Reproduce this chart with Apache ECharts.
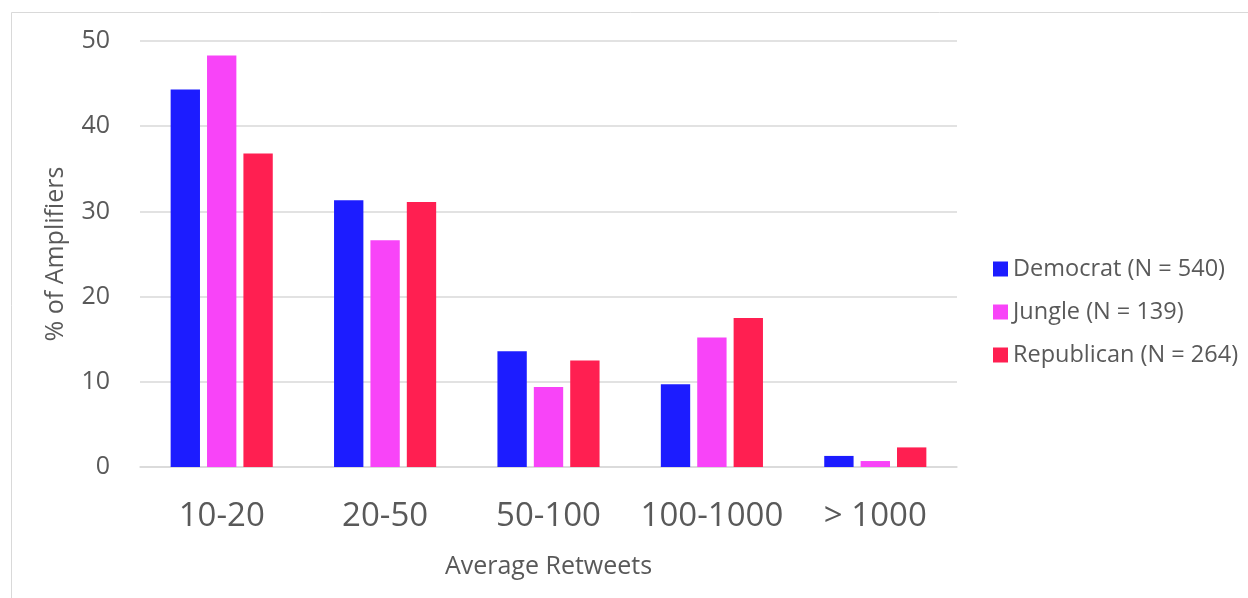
<!DOCTYPE html>
<html>
<head>
<meta charset="utf-8">
<style>
  html, body { margin: 0; padding: 0; background: #ffffff; }
  #chart { width: 1248px; height: 598px; }
</style>
<script src="https://cdn.jsdelivr.net/npm/echarts@6/dist/echarts.min.js"></script>
</head>
<body>
<div id="chart"></div>
<script>
// Share of amplifiers by average retweet bucket, per community
const categories = ['10-20', '20-50', '50-100', '100-1000', '> 1000'];
const democrat = [44.3, 31.3, 13.6, 9.7, 1.3];
const jungle = [48.3, 26.6, 9.4, 15.2, 0.7];
const republican = [36.8, 31.1, 12.5, 17.5, 2.3];
const seriesNames = ['Democrat (N = 540)', 'Jungle (N = 139)', 'Republican (N = 264)'];
const yTicks = { min: 0, max: 50, interval: 10 };

const FONT = '"Open Sans", "Liberation Sans", sans-serif';
const TEXT = '#595959';
const GRID_LINE = '#d9d9d9';

const chart = echarts.init(document.getElementById('chart'), null, { renderer: 'canvas' });

chart.setOption({
  backgroundColor: '#ffffff',
  animation: false,
  textStyle: { fontFamily: FONT, color: TEXT },
  graphic: [{
    type: 'rect',
    shape: { x: 11.5, y: 12.5, width: 1400, height: 800 },
    style: { fill: 'none', stroke: '#d9d9d9', lineWidth: 1 },
    silent: true,
    z: -10
  }],
  grid: { left: 140, right: 291, top: 41, bottom: 131 },
  legend: {
    orient: 'vertical',
    left: 988,
    top: 252,
    itemWidth: 15,
    itemHeight: 15,
    itemGap: 19,
    icon: 'rect',
    textStyle: { fontFamily: FONT, fontSize: 23.5, color: TEXT, lineHeight: 24, padding: [0, 0, 0, 0] },
    data: seriesNames
  },
  xAxis: {
    type: 'category',
    data: categories,
    name: 'Average Retweets',
    nameLocation: 'middle',
    nameGap: 87,
    nameTextStyle: { fontFamily: FONT, fontSize: 25, color: TEXT },
    axisLine: { lineStyle: { color: GRID_LINE, width: 1.5 } },
    axisTick: { show: false },
    axisLabel: { interval: 0, fontFamily: FONT, fontSize: 33, color: TEXT, margin: 33 }
  },
  yAxis: {
    type: 'value',
    min: yTicks.min,
    max: yTicks.max,
    interval: yTicks.interval,
    name: '% of Amplifiers',
    nameLocation: 'middle',
    nameGap: 72,
    nameTextStyle: { fontFamily: FONT, fontSize: 25, color: TEXT },
    axisLine: { show: false },
    axisTick: { show: false },
    axisLabel: { fontFamily: FONT, fontSize: 25, color: TEXT, margin: 30 },
    splitLine: { lineStyle: { color: GRID_LINE, width: 1.5 } }
  },
  series: [
    { name: seriesNames[0], type: 'bar', data: democrat, itemStyle: { color: '#1c1cff' }, barGap: '24%', barCategoryGap: '37.5%' },
    { name: seriesNames[1], type: 'bar', data: jungle, itemStyle: { color: '#f844f8' } },
    { name: seriesNames[2], type: 'bar', data: republican, itemStyle: { color: '#ff1f51' } }
  ]
});
</script>
</body>
</html>
